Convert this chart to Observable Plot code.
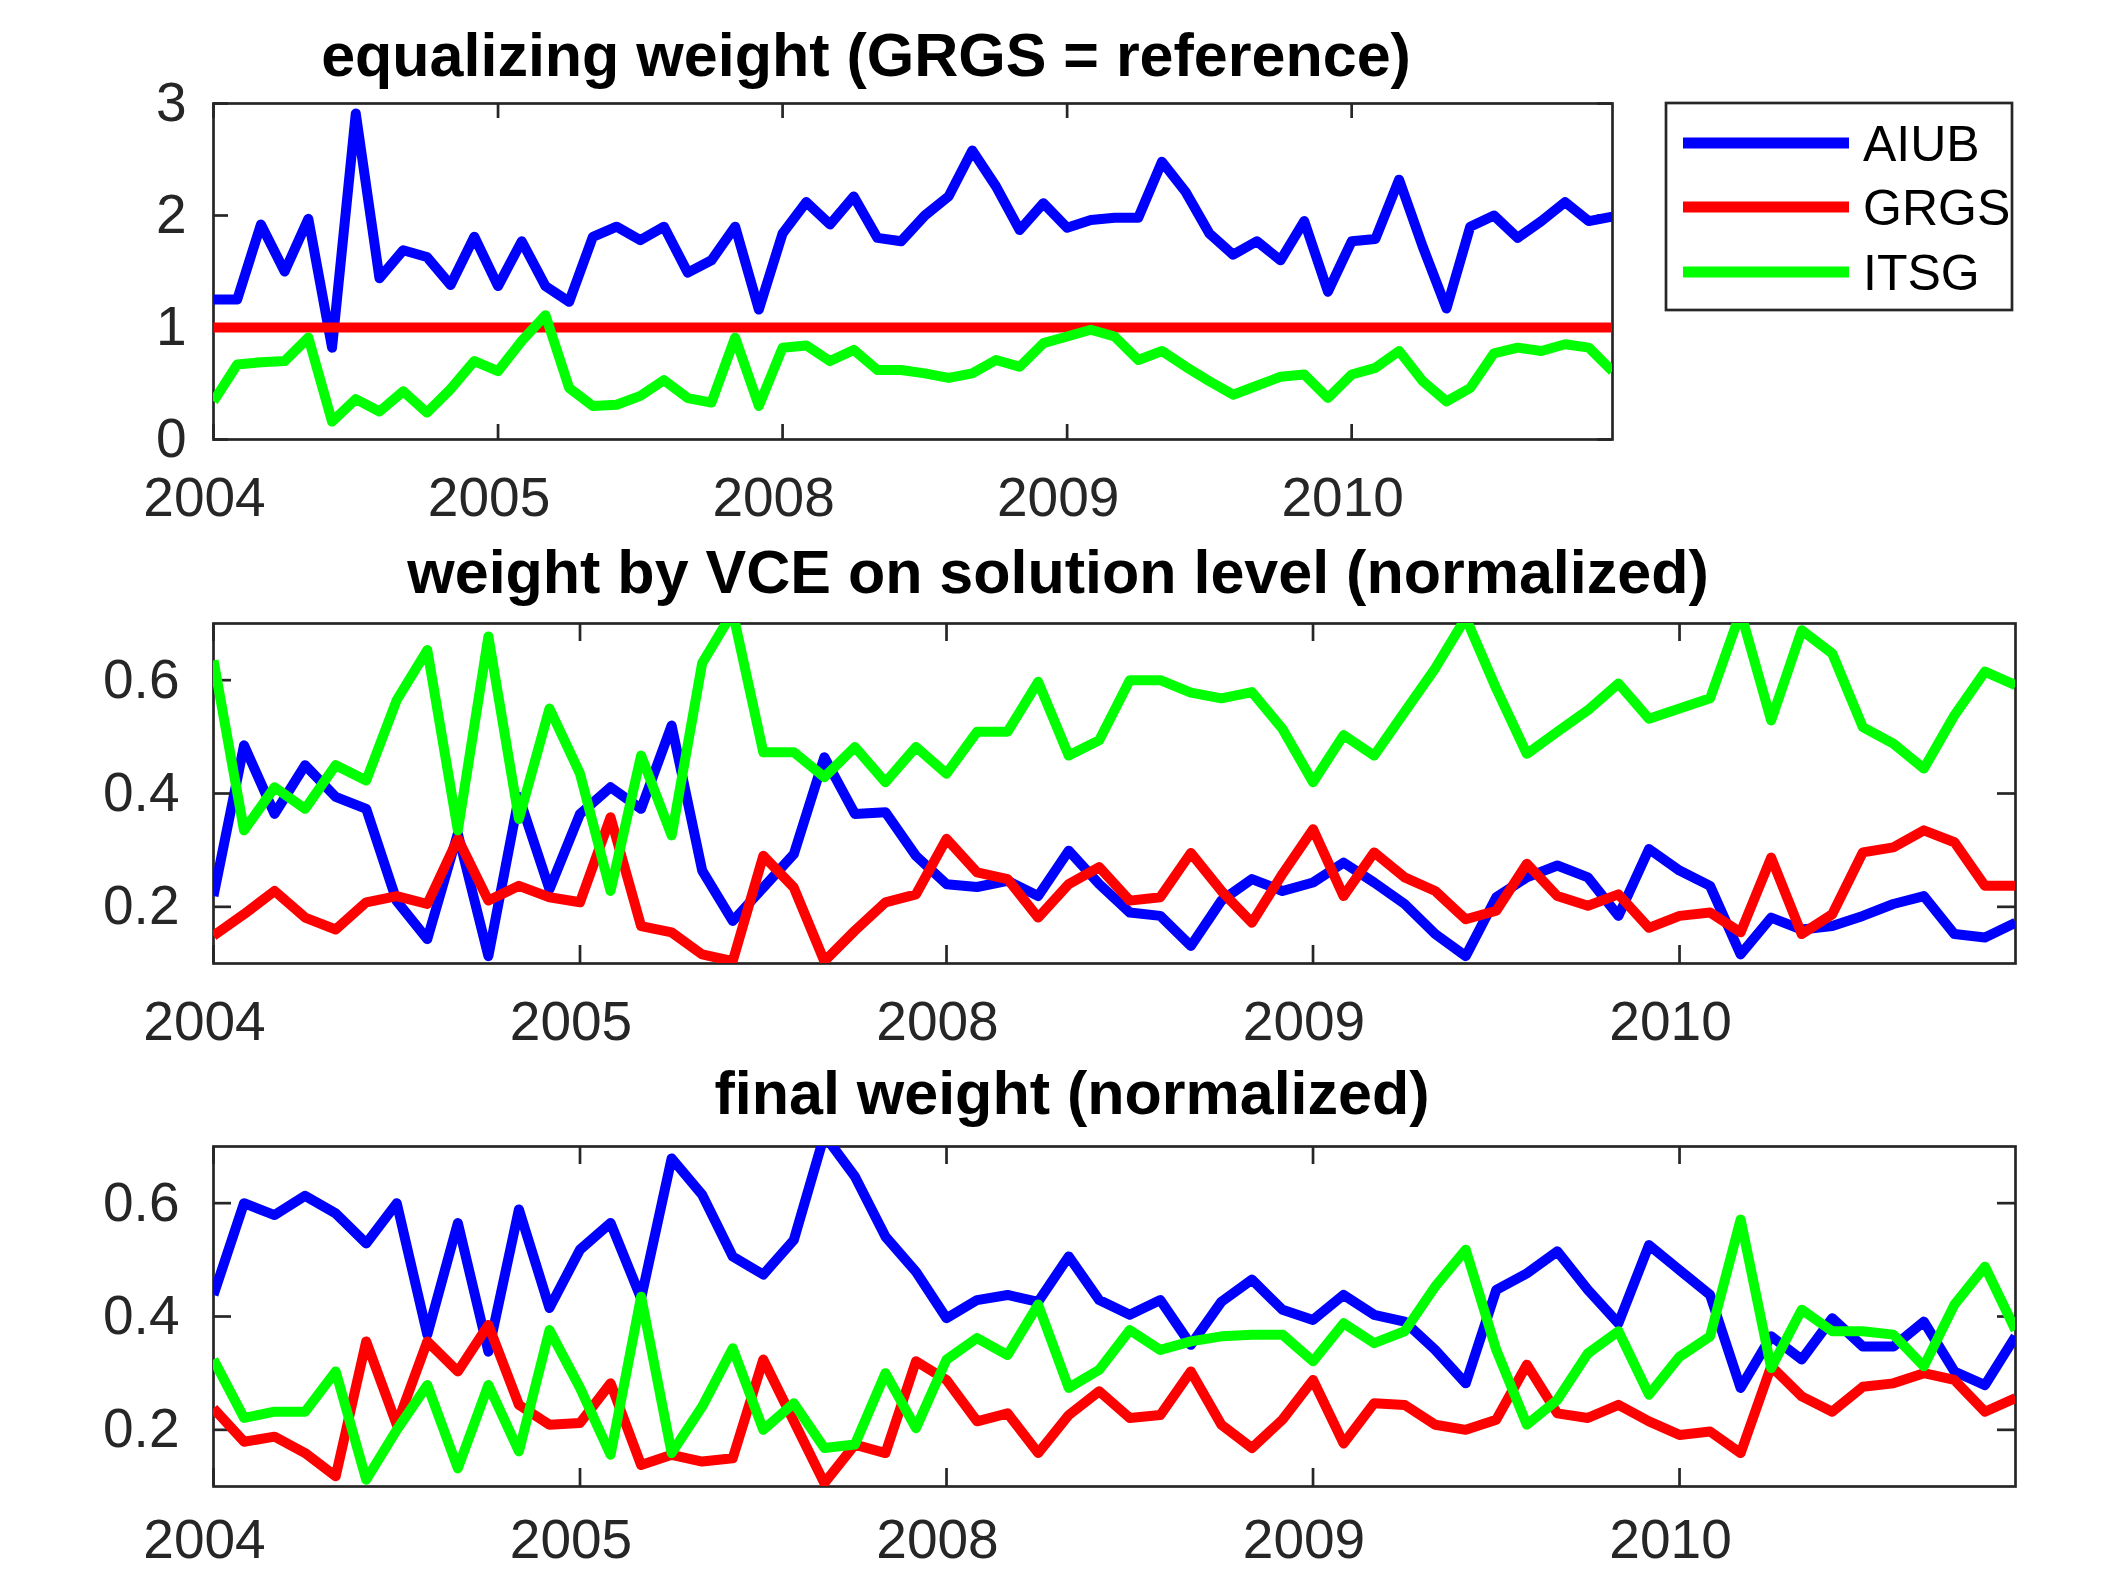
<!DOCTYPE html>
<html><head><meta charset="utf-8">
<script src="https://cdn.jsdelivr.net/npm/d3@7"></script>
<script src="https://cdn.jsdelivr.net/npm/@observablehq/plot@0.6"></script>
<style>
html,body{margin:0;padding:0;background:#fff;}
#root{position:relative;width:2124px;height:1569px;background:#fff;overflow:hidden;font-family:"Liberation Sans",Arial,Helvetica,sans-serif;}
.panel{position:absolute;left:0;}
#overlay{position:absolute;left:0;top:0;pointer-events:none;}
</style>
</head><body>
<div id="root"></div>
<script>
// ---------- data ----------
const seriesNames = ["AIUB", "GRGS", "ITSG"];
const seriesColors = ["#0000ff", "#ff0000", "#00ff00"];
const xTickPos = [0, 12, 24, 36, 48];
const xTickLabels = ["2004", "2005", "2008", "2009", "2010"];
const titles = ["equalizing weight (GRGS = reference)", "weight by VCE on solution level (normalized)", "final weight (normalized)"];

// panel 1: equalizing weight
const eqAIUB = [1.25,1.25,1.92,1.50,1.97,0.82,2.91,1.44,1.69,1.63,1.38,1.81,1.37,1.77,1.37,1.23,1.81,1.90,1.78,1.90,1.49,1.60,1.90,1.16,1.84,2.12,1.92,2.17,1.80,1.77,
  2.00,2.17,2.58,2.26,1.87,2.11,1.89,1.96,1.98,1.98,2.48,2.21,1.84,1.65,1.77,1.60,1.95,1.32,1.77,1.79,2.32,1.72,1.17,1.90,2.00,1.80,1.95,2.12,1.95,1.99];
const eqGRGS = [1,1,1,1,1,1,1,1,1,1,1,1,1,1,1,1,1,1,1,1,1,1,1,1,1,1,1,1,1,1,
  1,1,1,1,1,1,1,1,1,1,1,1,1,1,1,1,1,1,1,1,1,1,1,1,1,1,1,1,1,1];
const eqITSG = [0.34,0.67,0.69,0.70,0.91,0.16,0.36,0.25,0.43,0.24,0.45,0.70,0.61,0.88,1.11,0.46,0.30,0.31,0.39,0.53,0.37,0.33,0.91,0.30,0.82,0.84,0.70,0.80,0.62,0.62,
  0.59,0.55,0.59,0.71,0.65,0.86,0.92,0.98,0.92,0.71,0.79,0.65,0.52,0.40,0.48,0.56,0.58,0.37,0.58,0.64,0.79,0.52,0.34,0.46,0.77,0.82,0.79,0.85,0.82,0.61];

// panel 2: weight by VCE
const vceAIUB = [0.219,0.485,0.364,0.45,0.394,0.373,0.21,0.143,0.329,0.113,0.394,0.231,0.364,0.411,0.373,0.52,0.264,0.175,0.234,0.293,0.464,0.364,0.367,0.29,0.24,0.235,0.246,0.219,0.299,0.24,0.19,0.184,0.131,
  0.211,0.249,0.228,0.243,0.278,0.243,0.205,0.152,0.113,0.217,0.252,0.273,0.252,0.184,0.302,0.264,0.237,0.116,0.181,0.16,0.166,0.184,0.205,0.219,0.152,0.146,0.172];
const vceGRGS = [0.149,0.187,0.228,0.181,0.16,0.208,0.219,0.205,0.32,0.211,0.237,0.217,0.208,0.358,0.166,0.155,0.116,0.104,0.29,0.234,0.104,0.158,0.208,0.222,0.32,0.261,0.249,0.181,0.24,0.27,0.211,0.217,0.295,
  0.228,0.172,0.258,0.337,0.219,0.296,0.252,0.228,0.178,0.193,0.276,0.219,0.202,0.222,0.163,0.184,0.19,0.155,0.287,0.152,0.187,0.296,0.305,0.335,0.314,0.237,0.237];
const vceITSG = [0.635,0.335,0.411,0.373,0.45,0.423,0.565,0.653,0.335,0.677,0.355,0.55,0.435,0.228,0.467,0.326,0.63,0.72,0.473,0.473,0.429,0.482,0.42,0.482,0.435,0.509,0.509,0.597,0.467,0.494,0.6,0.6,0.578,
  0.568,0.579,0.514,0.42,0.503,0.467,0.544,0.621,0.71,0.585,0.47,0.509,0.547,0.594,0.532,0.55,0.568,0.72,0.529,0.688,0.647,0.517,0.488,0.444,0.538,0.615,0.591];

// panel 3: final weight
const finAIUB = [0.438,0.6,0.579,0.613,0.582,0.529,0.6,0.368,0.565,0.338,0.589,0.415,0.518,0.565,0.432,0.679,0.615,0.506,0.474,0.535,0.72,0.647,0.541,0.479,0.397,0.429,0.438,0.426,0.506,0.429,0.403,0.429,0.35,
  0.426,0.465,0.412,0.394,0.438,0.403,0.391,0.341,0.282,0.447,0.476,0.515,0.447,0.388,0.526,0.482,0.438,0.274,0.365,0.324,0.397,0.347,0.347,0.391,0.303,0.279,0.365];
const finGRGS = [0.238,0.179,0.188,0.159,0.118,0.356,0.209,0.356,0.303,0.385,0.244,0.209,0.212,0.282,0.138,0.156,0.144,0.15,0.324,0.215,0.106,0.174,0.159,0.321,0.288,0.215,0.229,0.159,0.226,0.268,0.221,0.226,0.303,
  0.209,0.168,0.218,0.288,0.176,0.247,0.244,0.209,0.2,0.218,0.315,0.229,0.221,0.244,0.215,0.191,0.197,0.159,0.312,0.259,0.232,0.276,0.282,0.3,0.288,0.232,0.256];
const finITSG = [0.324,0.221,0.232,0.232,0.303,0.112,0.2,0.279,0.132,0.279,0.162,0.376,0.274,0.156,0.435,0.159,0.241,0.344,0.2,0.247,0.168,0.174,0.3,0.203,0.324,0.362,0.332,0.421,0.274,0.306,0.376,0.341,0.356,
  0.365,0.368,0.368,0.321,0.388,0.353,0.374,0.453,0.518,0.341,0.209,0.253,0.335,0.374,0.262,0.329,0.365,0.571,0.309,0.412,0.374,0.374,0.368,0.312,0.421,0.488,0.376];

const yDomain1 = [0, 3];
const yTicks1 = [0, 1, 2, 3];
const yDomain23 = [0.1, 0.7];
const yTicks23 = [0.2, 0.4, 0.6];

// ---------- drawing ----------
const FONT = '"Liberation Sans", Arial, Helvetica, sans-serif';
const AX = "#262626";
const root = document.getElementById("root");

function toRows(list) {
  const rows = [];
  list.forEach((vals, k) => vals.forEach((v, i) => rows.push({x: i, y: v, name: seriesNames[k]})));
  return rows;
}

function panel(opts) {
  const {values, top, height, marginTop, marginBottom, marginRight, yDomain, yTicks, yFormat, tickLen, xPad, yPad} = opts;
  const marginLeft = 213, width = 2124;
  const fh = height - marginTop - marginBottom;
  const fw = width - marginLeft - marginRight;
  const data = toRows(values);
  const plot = Plot.plot({
    width, height, marginLeft, marginRight, marginTop, marginBottom,
    style: {fontFamily: FONT, fontSize: "55px", color: AX, background: "transparent", overflow: "visible"},
    x: {domain: [0, 59]},
    y: {domain: yDomain},
    color: {domain: seriesNames, range: seriesColors},
    marks: [
      Plot.frame({stroke: AX, strokeWidth: 2.7}),
      Plot.tickX(xTickPos, {x: d => d, insetBottom: fh - tickLen, stroke: AX, strokeWidth: 2.7}),
      Plot.tickX(xTickPos, {x: d => d, insetTop: fh - tickLen, stroke: AX, strokeWidth: 2.7}),
      Plot.tickY(yTicks, {y: d => d, insetRight: fw - tickLen, stroke: AX, strokeWidth: 2.7}),
      Plot.tickY(yTicks, {y: d => d, insetLeft: fw - tickLen, stroke: AX, strokeWidth: 2.7}),
      Plot.axisX({ticks: xTickPos, tickFormat: d => xTickLabels[xTickPos.indexOf(d)], tickSize: 0, tickPadding: xPad, dx: -9, label: null, fontSize: 55, fill: AX}),
      Plot.axisY({ticks: yTicks, tickFormat: yFormat, tickSize: 0, tickPadding: yPad, label: null, fontSize: 55, fill: AX}),
      Plot.line(data, {x: "x", y: "y", z: "name", stroke: "name", strokeWidth: 10, strokeLinejoin: "round", strokeLinecap: "butt", clip: true})
    ]
  });
  plot.classList.add("panel");
  plot.style.top = top + "px";
  root.appendChild(plot);
}

panel({values: [eqAIUB, eqGRGS, eqITSG], top: 90, height: 450, marginTop: 13, marginBottom: 101, marginRight: 512,
  yDomain: yDomain1, yTicks: yTicks1, yFormat: d => String(d), tickLen: 15, xPad: 37, yPad: 27});
panel({values: [vceAIUB, vceGRGS, vceITSG], top: 610, height: 440, marginTop: 13, marginBottom: 87, marginRight: 109,
  yDomain: yDomain23, yTicks: yTicks23, yFormat: d => d.toFixed(1), tickLen: 18, xPad: 37, yPad: 34});
panel({values: [finAIUB, finGRGS, finITSG], top: 1133, height: 436, marginTop: 13, marginBottom: 83, marginRight: 109,
  yDomain: yDomain23, yTicks: yTicks23, yFormat: d => d.toFixed(1), tickLen: 18, xPad: 32, yPad: 34});

// overlay: titles and legend
const svg = d3.select(root).append("svg").attr("id", "overlay").attr("width", 2124).attr("height", 1569)
  .style("font-family", FONT);
const titlePos = [[866, 76], [1058, 593], [1072, 1114]];
titles.forEach((t, i) => {
  svg.append("text").attr("x", titlePos[i][0]).attr("y", titlePos[i][1]).attr("text-anchor", "middle")
    .attr("font-size", 61).attr("font-weight", "bold").attr("fill", "#000").text(t);
});
const lg = svg.append("g").attr("transform", "translate(1666,103)");
lg.append("rect").attr("x", 0).attr("y", 0).attr("width", 346).attr("height", 207)
  .attr("fill", "#fff").attr("stroke", AX).attr("stroke-width", 2.7);
const rowY = [40, 104, 169];
seriesNames.forEach((n, i) => {
  lg.append("line").attr("x1", 17).attr("x2", 183).attr("y1", rowY[i]).attr("y2", rowY[i])
    .attr("stroke", seriesColors[i]).attr("stroke-width", 11);
  lg.append("text").attr("x", 197).attr("y", rowY[i] + 18).attr("font-size", 50).attr("fill", "#000").text(n);
});
</script>
</body></html>
